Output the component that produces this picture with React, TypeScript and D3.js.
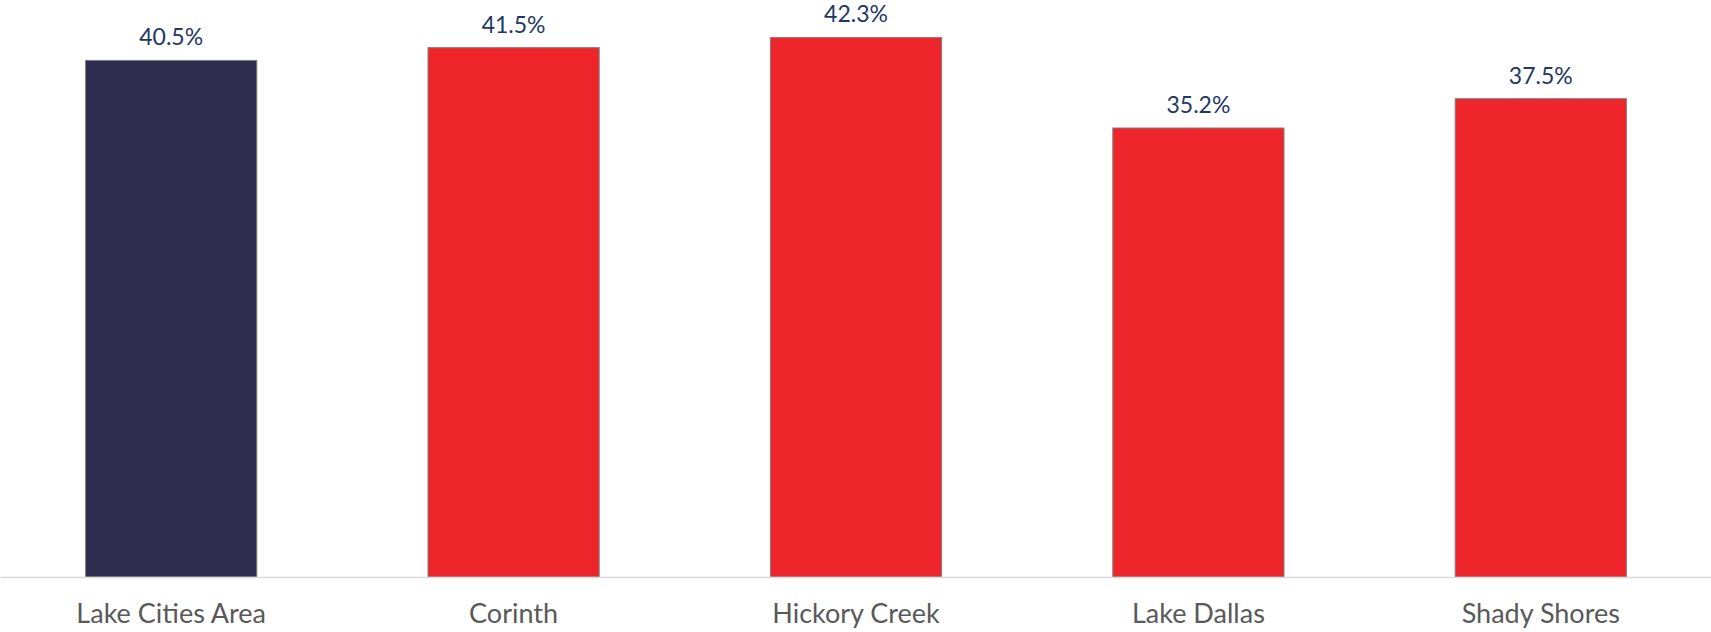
import React, { useEffect, useRef } from 'react';
import * as d3 from 'd3';

const categories = ['Lake Cities Area', 'Corinth', 'Hickory Creek', 'Lake Dallas', 'Shady Shores'];
const values = [40.5, 41.5, 42.3, 35.2, 37.5];
const barColors = ['#2E2C4F', '#EE262C', '#EE262C', '#EE262C', '#EE262C'];

const App: React.FC = () => {
  const ref = useRef<SVGSVGElement | null>(null);

  useEffect(() => {
    if (!ref.current) return;
    const width = 1711;
    const height = 632;
    const baseY = 577;

    const svg = d3.select(ref.current);
    svg.selectAll('*').remove();

    const x = d3.scaleBand<string>()
      .domain(categories)
      .range([0, 1712])
      .paddingInner(0.5)
      .paddingOuter(0.25);

    const y = d3.scaleLinear().domain([0, 45]).range([baseY, 3]);

    const data = categories.map((c, i) => ({ c, v: values[i], color: barColors[i] }));

    // bars
    svg.selectAll('.bar')
      .data(data)
      .enter().append('rect')
      .attr('class', 'bar')
      .attr('x', d => x(d.c)!)
      .attr('y', d => y(d.v))
      .attr('width', x.bandwidth())
      .attr('height', d => baseY - y(d.v))
      .attr('fill', d => d.color)
      .attr('stroke', '#7F7F7F')
      .attr('stroke-width', 1);

    // axis line
    svg.append('line')
      .attr('x1', 1)
      .attr('x2', width)
      .attr('y1', baseY + 0.5)
      .attr('y2', baseY + 0.5)
      .attr('stroke', '#D9D9D9')
      .attr('stroke-width', 1.5);

    // value labels
    svg.selectAll('.val')
      .data(data)
      .enter().append('text')
      .attr('class', 'val')
      .attr('x', d => x(d.c)! + x.bandwidth() / 2)
      .attr('y', d => y(d.v) - 15)
      .attr('text-anchor', 'middle')
      .style('font-family', 'Lato, "Open Sans", sans-serif')
      .style('font-size', '23px')
      .style('fill', '#1F3864')
      .text(d => `${d.v.toFixed(1)}%`);

    // category labels
    svg.selectAll('.cat')
      .data(data)
      .enter().append('text')
      .attr('class', 'cat')
      .attr('x', d => x(d.c)! + x.bandwidth() / 2)
      .attr('y', 623)
      .attr('text-anchor', 'middle')
      .style('font-family', 'Lato, "Open Sans", sans-serif')
      .style('font-size', '27px')
      .style('fill', '#595959')
      .text(d => d.c);

    svg.attr('width', width).attr('height', height);
  }, []);

  return (
    <svg
      ref={ref}
      width={1711}
      height={632}
      style={{ position: 'absolute', left: 0, top: 0, background: '#fff' }}
    />
  );
};

export default App;
